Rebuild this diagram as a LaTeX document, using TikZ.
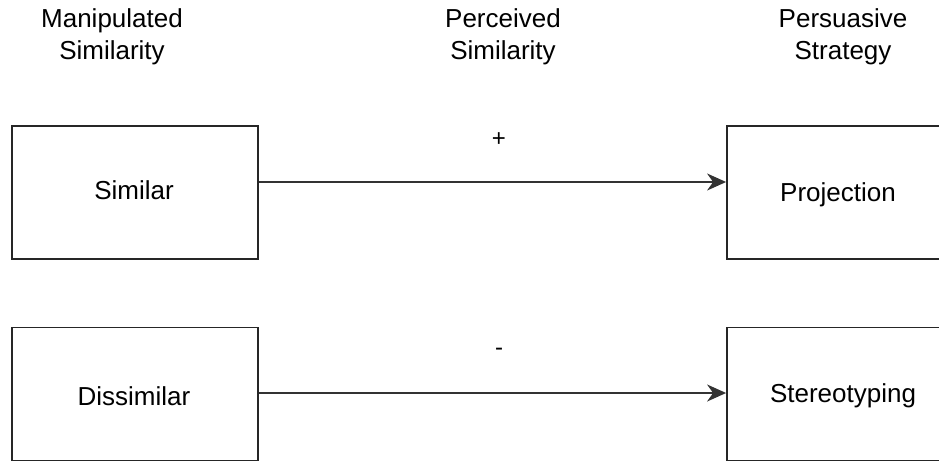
\documentclass[tikz,border=0pt]{standalone}
\usepackage{fontspec}
\setmainfont{Liberation Sans}
\usetikzlibrary{arrows.meta}
\begin{document}
\begin{tikzpicture}[x=1pt,y=-1pt,
  box/.style={draw=black!85, line width=1.8pt, rectangle, minimum height=133pt, inner sep=0pt},
  leftbox/.style={box, minimum width=246pt},
  rightbox/.style={box, minimum width=222pt},
  txt/.style={font=\fontsize{26}{32}\selectfont, inner sep=0pt},
  head/.style={txt, align=center},
  sign/.style={font=\fontsize{24}{28}\selectfont, inner sep=0pt},
  link/.style={draw=black!80, line width=1.5pt, -{Stealth[length=19pt,width=17pt,inset=6pt]}}]
  \useasboundingbox (0,0) rectangle (939,468);
  \clip (0,0) rectangle (939,468);

  % column headings
  \node[head] (h1) at (112,37) {Manipulated\\Similarity};
  \node[head] (h2) at (503,37) {Perceived\\Similarity};
  \node[head] (h3) at (843,37) {Persuasive\\Strategy};

  % boxes
  \node[leftbox] (sim) at (135,192.5) {};
  \node[rightbox] (proj) at (838,192.5) {};
  \node[leftbox] (dis) at (135,394) {};
  \node[rightbox] (ster) at (838,394) {};

  % box texts
  \node[txt] (simt) at (134,190) {Similar};
  \node[txt] (projt) at (838,195) {Projection};
  \node[txt] (dist) at (134,396) {Dissimilar};
  \node[txt] (stert) at (843,396) {Stereotyping};

  % arrows
  \draw[link] (sim.east |- 0,182) -- (proj.west |- 0,182);
  \draw[link] (dis.east |- 0,393) -- (ster.west |- 0,393);

  % signs
  \node[sign] (plus) at (499,140) {+};
  \node[sign] (minus) at (499,352) {-};
\end{tikzpicture}
\end{document}
